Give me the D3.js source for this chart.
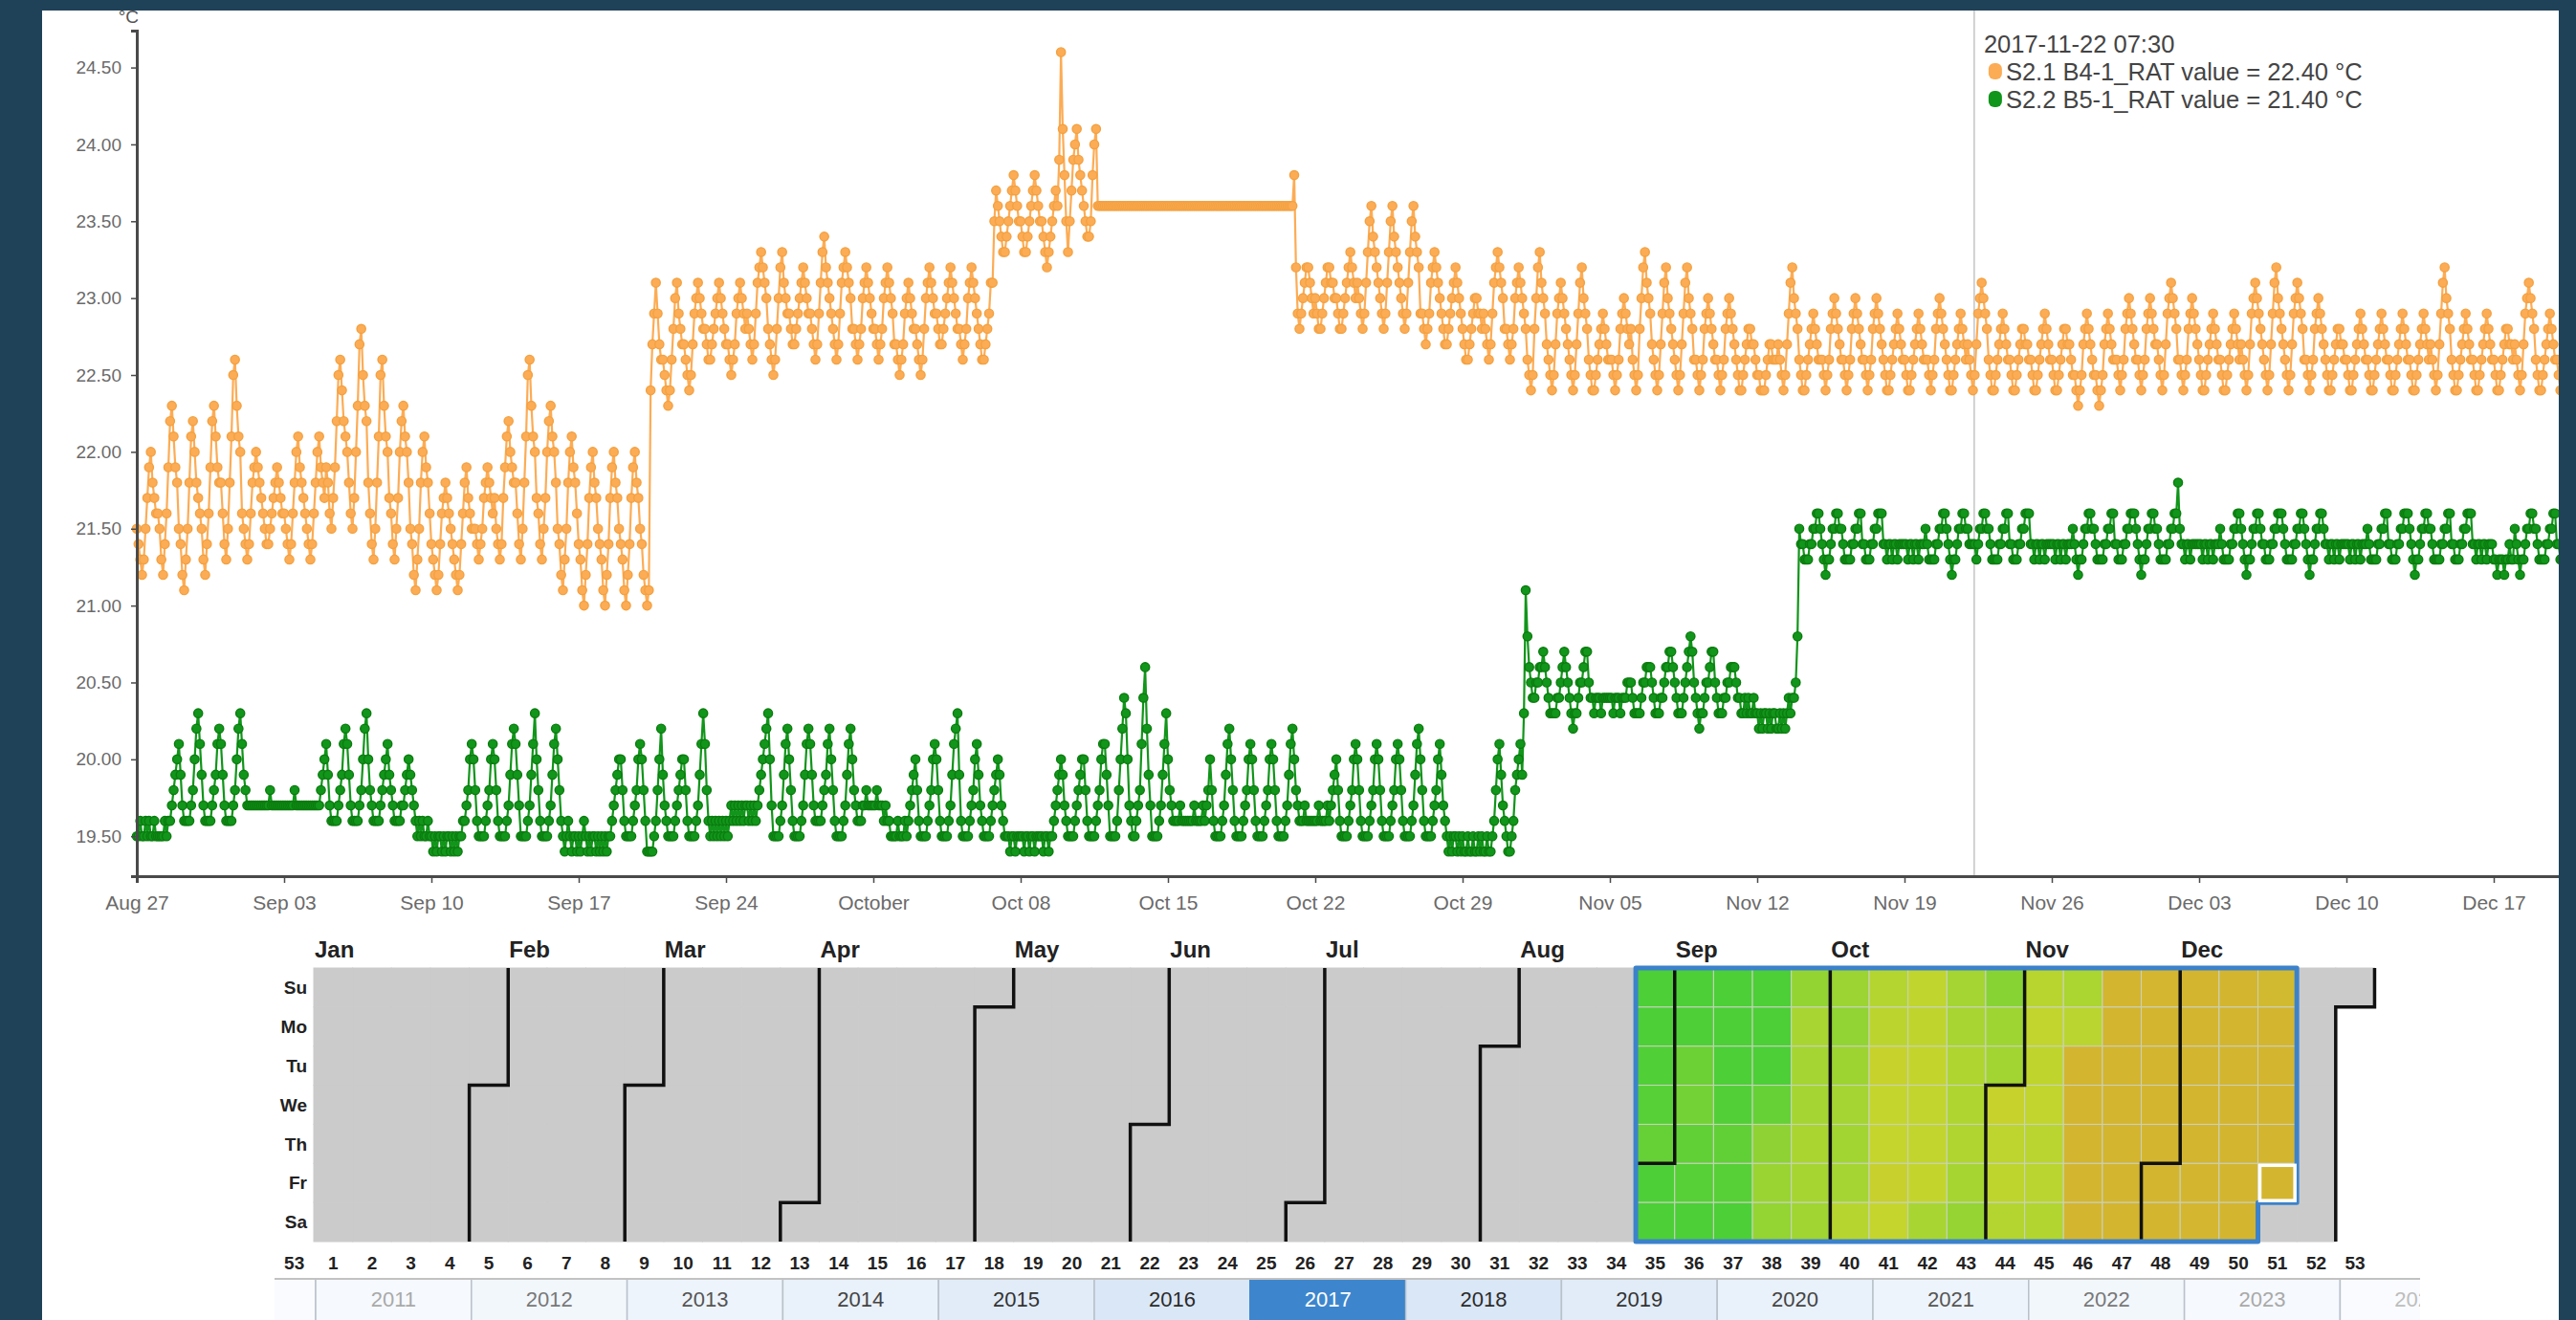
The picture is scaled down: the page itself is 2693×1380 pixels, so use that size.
<!DOCTYPE html>
<html>
<head>
<meta charset="utf-8">
<script src="https://cdn.jsdelivr.net/npm/d3@7"></script>
<style>
  html, body { margin: 0; padding: 0; background: #1f4259; overflow: hidden; }
  svg { display: block; font-family: "Liberation Sans", Arial, sans-serif; }
</style>
</head>
<body>
<svg id="chart" width="2693" height="1380"></svg>
<script>
// ---------- data ----------
// Return-air temperature readings, one every 2 hours from 2017-08-27 00:00 (12 per day)
const seriesStart = new Date(2017, 7, 27, 0, 0);
const readingStepHours = 2;
const sensorNames = ["S2.1 B4-1_RAT", "S2.2 B5-1_RAT"];
const unitLabel = "°C";

const b4Readings = [
  21.5,21.4,21.3,21.2,21.3,21.5,21.7,21.9,22.0,21.8,21.7,21.6, 21.6,21.5,21.3,21.2,21.4,21.6,21.9,22.2,22.3,22.1,21.9,21.8,
  21.5,21.4,21.2,21.1,21.3,21.5,21.8,22.1,22.2,22.0,21.8,21.7, 21.6,21.5,21.3,21.2,21.4,21.6,21.9,22.2,22.3,22.1,21.9,21.8,
  21.8,21.6,21.4,21.3,21.5,21.8,22.1,22.5,22.6,22.3,22.1,22.0, 21.6,21.5,21.4,21.3,21.4,21.6,21.8,21.9,22.0,21.9,21.8,21.7,
  21.6,21.5,21.4,21.4,21.5,21.6,21.7,21.8,21.9,21.8,21.7,21.6, 21.6,21.5,21.4,21.3,21.4,21.6,21.8,22.0,22.1,21.9,21.8,21.7,
  21.6,21.5,21.4,21.3,21.4,21.6,21.8,22.0,22.1,21.9,21.8,21.7, 21.9,21.8,21.6,21.5,21.7,21.9,22.2,22.5,22.6,22.4,22.2,22.1,
  22.0,21.8,21.6,21.5,21.7,22.0,22.3,22.7,22.8,22.5,22.3,22.2, 21.8,21.6,21.4,21.3,21.5,21.8,22.1,22.5,22.6,22.3,22.1,22.0,
  21.7,21.6,21.4,21.3,21.5,21.7,22.0,22.2,22.3,22.1,22.0,21.8, 21.5,21.4,21.2,21.1,21.3,21.5,21.8,22.0,22.1,21.9,21.8,21.6,
  21.4,21.3,21.2,21.1,21.2,21.4,21.6,21.7,21.8,21.7,21.6,21.5, 21.4,21.3,21.2,21.1,21.2,21.4,21.6,21.8,21.9,21.7,21.6,21.5,
  21.5,21.5,21.4,21.3,21.4,21.5,21.7,21.8,21.9,21.8,21.7,21.6, 21.7,21.5,21.4,21.3,21.4,21.7,21.9,22.1,22.2,22.0,21.9,21.8,
  21.8,21.6,21.4,21.3,21.5,21.8,22.1,22.5,22.6,22.3,22.1,22.0, 21.7,21.6,21.4,21.3,21.5,21.7,22.0,22.2,22.3,22.1,22.0,21.8,
  21.5,21.4,21.2,21.1,21.3,21.5,21.8,22.0,22.1,21.9,21.8,21.6, 21.4,21.3,21.1,21.0,21.2,21.4,21.7,21.9,22.0,21.8,21.7,21.5,
  21.4,21.3,21.1,21.0,21.2,21.4,21.7,21.9,22.0,21.8,21.7,21.5, 21.4,21.3,21.1,21.0,21.2,21.4,21.7,21.9,22.0,21.8,21.7,21.5,
  21.4,21.2,21.1,21.0,21.1,22.4,22.7,22.9,23.1,22.9,22.7,22.6, 22.6,22.5,22.4,22.3,22.4,22.6,22.8,23.0,23.1,22.9,22.8,22.7,
  22.7,22.6,22.5,22.4,22.5,22.7,22.9,23.0,23.1,23.0,22.9,22.8, 22.8,22.7,22.6,22.6,22.7,22.8,22.9,23.0,23.1,23.0,22.9,22.8,
  22.7,22.7,22.6,22.5,22.6,22.7,22.9,23.0,23.1,23.0,22.9,22.8, 22.9,22.8,22.7,22.6,22.7,22.9,23.1,23.2,23.3,23.2,23.1,23.0,
  22.8,22.7,22.6,22.5,22.6,22.8,23.0,23.2,23.3,23.1,23.0,22.9, 22.9,22.8,22.7,22.7,22.8,22.9,23.0,23.1,23.2,23.1,23.0,22.9,
  22.9,22.8,22.7,22.6,22.7,22.9,23.1,23.3,23.4,23.2,23.1,23.0, 22.9,22.8,22.7,22.6,22.7,22.9,23.1,23.2,23.3,23.2,23.1,23.0,
  22.8,22.8,22.7,22.6,22.7,22.8,23.0,23.1,23.2,23.1,23.0,22.9, 22.8,22.8,22.7,22.6,22.7,22.8,23.0,23.1,23.2,23.1,23.0,22.9,
  22.7,22.7,22.6,22.5,22.6,22.7,22.9,23.0,23.1,23.0,22.9,22.8, 22.8,22.7,22.6,22.5,22.6,22.8,23.0,23.1,23.2,23.1,23.0,22.9,
  22.9,22.8,22.7,22.7,22.8,22.9,23.0,23.1,23.2,23.1,23.0,22.9, 22.8,22.8,22.7,22.6,22.7,22.8,23.0,23.1,23.2,23.1,23.0,22.9,
  22.8,22.7,22.6,22.6,22.7,22.8,22.9,23.1,23.1,23.5,23.7,23.6, 23.5,23.4,23.3,23.3,23.4,23.5,23.6,23.7,23.8,23.7,23.6,23.5,
  23.5,23.4,23.3,23.3,23.4,23.5,23.6,23.7,23.8,23.7,23.6,23.5, 23.5,23.4,23.3,23.2,23.3,23.4,23.5,23.6,23.7,23.6,23.9,24.6,
  24.1,23.8,23.5,23.3,23.5,23.7,23.9,24.0,24.1,23.9,23.8,23.7, 23.6,23.5,23.4,23.4,23.5,23.8,24.0,24.1,23.6,23.6,23.6,23.6,
  23.6,23.6,23.6,23.6,23.6,23.6,23.6,23.6,23.6,23.6,23.6,23.6, 23.6,23.6,23.6,23.6,23.6,23.6,23.6,23.6,23.6,23.6,23.6,23.6,
  23.6,23.6,23.6,23.6,23.6,23.6,23.6,23.6,23.6,23.6,23.6,23.6, 23.6,23.6,23.6,23.6,23.6,23.6,23.6,23.6,23.6,23.6,23.6,23.6,
  23.6,23.6,23.6,23.6,23.6,23.6,23.6,23.6,23.6,23.6,23.6,23.6, 23.6,23.6,23.6,23.6,23.6,23.6,23.6,23.6,23.6,23.6,23.6,23.6,
  23.6,23.6,23.6,23.6,23.6,23.6,23.6,23.6,23.6,23.6,23.6,23.6, 23.6,23.6,23.6,23.6,23.6,23.6,23.6,23.6,23.6,23.6,23.6,23.6,
  23.6,23.6,23.6,23.6,23.6,23.6,23.6,23.6,23.6,23.6,23.6,23.6,
  23.8,23.2,22.9,22.8,22.9,23.0,23.1,23.2,23.2,23.1,23.0,22.9, 23.0,22.9,22.8,22.8,22.9,23.0,23.1,23.2,23.2,23.1,23.1,23.0,
  23.0,22.9,22.8,22.8,22.9,23.0,23.1,23.2,23.3,23.2,23.1,23.0, 23.1,23.0,22.9,22.8,22.9,23.1,23.3,23.5,23.6,23.4,23.3,23.2,
  23.1,23.0,22.9,22.8,22.9,23.1,23.3,23.5,23.6,23.4,23.3,23.2, 23.1,23.0,22.9,22.8,22.9,23.1,23.3,23.5,23.6,23.4,23.3,23.2,
  22.9,22.9,22.8,22.7,22.8,22.9,23.1,23.2,23.3,23.2,23.1,23.0, 22.9,22.8,22.7,22.7,22.8,22.9,23.0,23.1,23.2,23.1,23.0,22.9,
  22.8,22.7,22.6,22.6,22.7,22.8,22.9,23.0,23.0,22.9,22.9,22.8, 22.9,22.8,22.7,22.6,22.7,22.9,23.1,23.2,23.3,23.2,23.1,23.0,
  22.8,22.8,22.7,22.6,22.7,22.8,23.0,23.1,23.2,23.1,23.0,22.9, 22.8,22.6,22.5,22.4,22.5,22.8,23.0,23.2,23.3,23.1,23.0,22.9,
  22.7,22.6,22.5,22.4,22.5,22.7,22.9,23.0,23.1,23.0,22.9,22.8, 22.7,22.6,22.5,22.4,22.5,22.7,22.9,23.1,23.2,23.0,22.9,22.8,
  22.6,22.5,22.4,22.4,22.5,22.6,22.7,22.8,22.9,22.8,22.7,22.6, 22.6,22.6,22.5,22.4,22.5,22.6,22.8,22.9,23.0,22.9,22.8,22.7,
  22.8,22.6,22.5,22.4,22.5,22.8,23.0,23.2,23.3,23.1,23.0,22.9, 22.7,22.6,22.5,22.4,22.5,22.7,22.9,23.1,23.2,23.0,22.9,22.8,
  22.7,22.6,22.5,22.4,22.5,22.7,22.9,23.1,23.2,23.0,22.9,22.8, 22.6,22.6,22.5,22.4,22.5,22.6,22.8,22.9,23.0,22.9,22.8,22.7,
  22.6,22.6,22.5,22.4,22.5,22.6,22.8,22.9,23.0,22.9,22.8,22.7, 22.6,22.5,22.4,22.4,22.5,22.6,22.7,22.8,22.8,22.7,22.7,22.6,
  22.5,22.5,22.4,22.4,22.4,22.5,22.6,22.7,22.7,22.6,22.6,22.6, 22.7,22.6,22.5,22.4,22.5,22.7,22.9,23.1,23.2,23.0,22.9,22.8,
  22.6,22.5,22.4,22.4,22.5,22.6,22.7,22.8,22.9,22.8,22.7,22.6, 22.6,22.6,22.5,22.4,22.5,22.6,22.8,22.9,23.0,22.9,22.8,22.7,
  22.6,22.6,22.5,22.4,22.5,22.6,22.8,22.9,23.0,22.9,22.8,22.7, 22.6,22.6,22.5,22.4,22.5,22.6,22.8,22.9,23.0,22.9,22.8,22.7,
  22.6,22.5,22.4,22.4,22.5,22.6,22.7,22.8,22.9,22.8,22.7,22.6, 22.6,22.5,22.4,22.4,22.5,22.6,22.7,22.8,22.9,22.8,22.7,22.6,
  22.6,22.6,22.5,22.4,22.5,22.6,22.8,22.9,23.0,22.9,22.8,22.7, 22.6,22.5,22.4,22.4,22.5,22.6,22.7,22.8,22.9,22.8,22.7,22.6,
  22.7,22.6,22.5,22.4,22.5,22.7,22.9,23.0,23.1,23.0,22.9,22.8, 22.6,22.5,22.4,22.4,22.5,22.6,22.7,22.8,22.9,22.8,22.7,22.6,
  22.6,22.5,22.4,22.4,22.5,22.6,22.7,22.8,22.8,22.7,22.7,22.6, 22.6,22.5,22.4,22.4,22.5,22.6,22.7,22.8,22.9,22.8,22.7,22.6,
  22.6,22.5,22.4,22.4,22.5,22.6,22.7,22.8,22.8,22.7,22.7,22.6, 22.5,22.5,22.4,22.3,22.4,22.5,22.7,22.8,22.9,22.8,22.7,22.6,
  22.5,22.5,22.4,22.3,22.4,22.5,22.7,22.8,22.9,22.8,22.7,22.6, 22.6,22.6,22.5,22.4,22.5,22.6,22.8,22.9,23.0,22.9,22.8,22.7,
  22.6,22.6,22.5,22.4,22.5,22.6,22.8,22.9,23.0,22.9,22.8,22.7, 22.7,22.6,22.5,22.4,22.5,22.7,22.9,23.0,23.1,23.0,22.9,22.8,
  22.6,22.6,22.5,22.4,22.5,22.6,22.8,22.9,23.0,22.9,22.8,22.7, 22.6,22.5,22.4,22.4,22.5,22.6,22.7,22.8,22.9,22.8,22.7,22.6,
  22.6,22.5,22.4,22.4,22.5,22.6,22.7,22.8,22.9,22.8,22.7,22.6, 22.7,22.6,22.5,22.4,22.5,22.7,22.9,23.0,23.1,23.0,22.9,22.8,
  22.7,22.6,22.5,22.4,22.5,22.7,22.9,23.1,23.2,23.0,22.9,22.8, 22.7,22.6,22.5,22.4,22.5,22.7,22.9,23.0,23.1,23.0,22.9,22.8,
  22.6,22.6,22.5,22.4,22.5,22.6,22.8,22.9,23.0,22.9,22.8,22.7, 22.6,22.5,22.4,22.4,22.5,22.6,22.7,22.8,22.8,22.7,22.7,22.6,
  22.6,22.5,22.4,22.4,22.5,22.6,22.7,22.8,22.9,22.8,22.7,22.6, 22.6,22.5,22.4,22.4,22.5,22.6,22.7,22.8,22.9,22.8,22.7,22.6,
  22.6,22.5,22.4,22.4,22.5,22.6,22.7,22.8,22.9,22.8,22.7,22.6, 22.6,22.5,22.4,22.4,22.5,22.6,22.7,22.8,22.9,22.8,22.7,22.6,
  22.7,22.6,22.5,22.4,22.5,22.7,22.9,23.1,23.2,23.0,22.9,22.8, 22.6,22.5,22.4,22.4,22.5,22.6,22.7,22.8,22.9,22.8,22.7,22.6,
  22.6,22.5,22.4,22.4,22.5,22.6,22.7,22.8,22.9,22.8,22.7,22.6, 22.6,22.5,22.4,22.4,22.5,22.6,22.7,22.8,22.8,22.7,22.7,22.6,
  22.7,22.6,22.5,22.4,22.5,22.7,22.9,23.0,23.1,23.0,22.9,22.8, 22.6,22.5,22.4,22.4,22.5,22.6,22.7,22.8,22.9,22.8,22.7,22.6,
  22.6,22.5,22.4,22.4,22.5,22.6,22.7,22.8,22.8,22.7,22.7,22.6, 22.6,22.5,22.4,22.4,22.5,22.6,22.7,22.8,22.9,22.8,22.7,22.6,
  22.6,22.5,22.4,22.4,22.5,22.6,22.7,22.8,22.8,22.7,22.7,22.6
];

const b5Readings = [
  19.5,19.5,19.6,19.5,19.5,19.6,19.5,19.6,19.5,19.5,19.6,19.5, 19.5,19.5,19.5,19.5,19.6,19.5,19.6,19.6,19.7,19.8,19.9,20.0,
  20.1,19.9,19.7,19.6,19.6,19.6,19.6,19.7,19.8,20.0,20.2,20.3, 20.1,19.9,19.7,19.6,19.6,19.6,19.6,19.7,19.8,19.9,20.1,20.2,
  20.1,19.9,19.7,19.6,19.6,19.6,19.6,19.7,19.8,20.0,20.2,20.3, 20.1,19.9,19.8,19.7,19.7,19.7,19.7,19.7,19.7,19.7,19.7,19.7,
  19.7,19.7,19.7,19.7,19.8,19.7,19.7,19.7,19.7,19.7,19.7,19.7, 19.7,19.7,19.7,19.7,19.7,19.7,19.8,19.7,19.7,19.7,19.7,19.7,
  19.7,19.7,19.7,19.7,19.7,19.7,19.7,19.7,19.7,19.8,19.9,20.0, 20.1,19.9,19.7,19.6,19.6,19.6,19.6,19.7,19.8,19.9,20.1,20.2,
  20.1,19.9,19.7,19.6,19.6,19.6,19.6,19.7,19.8,20.0,20.2,20.3, 20.0,19.8,19.7,19.6,19.6,19.6,19.6,19.7,19.8,19.9,20.0,20.1,
  19.9,19.8,19.7,19.6,19.6,19.6,19.6,19.7,19.7,19.8,19.9,20.0, 19.9,19.8,19.7,19.6,19.5,19.6,19.5,19.6,19.5,19.5,19.6,19.5,
  19.5,19.4,19.5,19.4,19.5,19.5,19.4,19.5,19.4,19.5,19.5,19.4, 19.5,19.4,19.5,19.4,19.5,19.5,19.6,19.6,19.7,19.8,20.0,20.1,
  20.0,19.8,19.6,19.5,19.5,19.5,19.5,19.6,19.7,19.8,20.0,20.1, 20.0,19.8,19.6,19.5,19.5,19.5,19.5,19.6,19.7,19.9,20.1,20.2,
  20.1,19.9,19.7,19.5,19.5,19.5,19.5,19.6,19.7,19.9,20.1,20.3, 20.0,19.8,19.6,19.5,19.5,19.5,19.5,19.6,19.7,19.9,20.1,20.2,
  20.0,19.8,19.6,19.5,19.4,19.5,19.6,19.5,19.4,19.5,19.5,19.4, 19.5,19.4,19.5,19.6,19.5,19.4,19.5,19.4,19.5,19.5,19.4,19.5,
  19.4,19.5,19.4,19.5,19.4,19.5,19.5,19.6,19.7,19.8,19.9,20.0, 20.0,19.8,19.6,19.5,19.5,19.5,19.5,19.6,19.7,19.8,20.0,20.1,
  20.0,19.8,19.6,19.4,19.4,19.4,19.4,19.5,19.6,19.8,20.0,20.2, 19.9,19.7,19.6,19.5,19.5,19.5,19.5,19.6,19.7,19.8,19.9,20.0,
  20.0,19.8,19.6,19.5,19.5,19.5,19.5,19.6,19.7,19.9,20.1,20.3, 20.1,19.8,19.6,19.5,19.6,19.5,19.6,19.5,19.6,19.5,19.6,19.5,
  19.6,19.5,19.6,19.7,19.6,19.7,19.6,19.7,19.6,19.7,19.6,19.7, 19.7,19.6,19.7,19.6,19.7,19.6,19.7,19.8,19.9,20.0,20.1,20.2,
  20.3,20.0,19.7,19.5,19.5,19.5,19.5,19.6,19.7,19.9,20.1,20.2, 20.0,19.8,19.6,19.5,19.5,19.5,19.5,19.6,19.7,19.9,20.1,20.2,
  20.1,19.9,19.7,19.6,19.6,19.6,19.6,19.7,19.8,19.9,20.1,20.2, 20.0,19.8,19.6,19.5,19.5,19.5,19.5,19.6,19.7,19.9,20.1,20.2,
  20.0,19.8,19.7,19.6,19.6,19.6,19.7,19.7,19.8,19.7,19.7,19.7, 19.7,19.7,19.8,19.7,19.7,19.7,19.6,19.7,19.6,19.6,19.5,19.5,
  19.5,19.5,19.6,19.5,19.5,19.5,19.6,19.5,19.6,19.7,19.8,19.9, 20.0,19.8,19.6,19.5,19.5,19.5,19.5,19.6,19.7,19.8,20.0,20.1,
  20.0,19.8,19.6,19.5,19.5,19.5,19.5,19.6,19.7,19.9,20.1,20.2, 20.3,19.9,19.6,19.5,19.5,19.5,19.5,19.6,19.7,19.8,20.0,20.1,
  19.9,19.7,19.6,19.5,19.5,19.5,19.5,19.6,19.7,19.8,19.9,20.0, 19.9,19.7,19.6,19.5,19.5,19.5,19.4,19.5,19.5,19.4,19.5,19.5,
  19.5,19.5,19.4,19.5,19.5,19.4,19.5,19.5,19.4,19.5,19.5,19.5, 19.5,19.4,19.5,19.5,19.4,19.5,19.5,19.6,19.7,19.8,19.9,20.0,
  19.9,19.7,19.6,19.5,19.5,19.5,19.5,19.6,19.7,19.8,19.9,20.0, 20.0,19.8,19.6,19.5,19.5,19.5,19.5,19.6,19.7,19.8,20.0,20.1,
  20.1,19.9,19.7,19.5,19.5,19.5,19.5,19.6,19.8,20.0,20.2,20.4, 20.3,20.0,19.7,19.6,19.5,19.5,19.6,19.7,19.8,20.1,20.4,20.6,
  20.2,19.9,19.7,19.5,19.5,19.5,19.5,19.6,19.7,19.9,20.1,20.3, 20.0,19.8,19.7,19.6,19.6,19.6,19.6,19.7,19.6,19.6,19.6,19.6,
  19.6,19.6,19.6,19.7,19.6,19.6,19.6,19.6,19.7,19.6,19.7,19.8, 20.0,19.8,19.6,19.5,19.5,19.5,19.5,19.6,19.7,19.9,20.1,20.2,
  20.0,19.8,19.6,19.5,19.5,19.5,19.5,19.6,19.7,19.8,20.0,20.1, 20.0,19.8,19.6,19.5,19.5,19.5,19.5,19.6,19.7,19.8,20.0,20.1,
  20.0,19.8,19.6,19.5,19.5,19.5,19.5,19.6,19.7,19.9,20.1,20.2, 20.0,19.8,19.7,19.6,19.6,19.6,19.7,19.6,19.6,19.6,19.6,19.6,
  19.6,19.6,19.7,19.6,19.6,19.6,19.6,19.7,19.6,19.7,19.8,19.9, 20.0,19.8,19.6,19.5,19.5,19.5,19.5,19.6,19.7,19.8,20.0,20.1,
  20.0,19.8,19.6,19.5,19.5,19.5,19.5,19.6,19.7,19.8,20.0,20.1, 20.0,19.8,19.6,19.5,19.5,19.5,19.5,19.6,19.7,19.8,20.0,20.1,
  20.0,19.8,19.6,19.5,19.5,19.5,19.5,19.6,19.7,19.9,20.1,20.2, 20.0,19.8,19.6,19.5,19.5,19.5,19.5,19.6,19.7,19.8,20.0,20.1,
  19.9,19.7,19.6,19.5,19.4,19.5,19.4,19.5,19.5,19.4,19.5,19.4, 19.5,19.4,19.4,19.5,19.4,19.4,19.5,19.4,19.4,19.5,19.4,19.5,
  19.4,19.4,19.5,19.4,19.4,19.5,19.6,19.8,20.0,20.1,19.9,19.7, 19.6,19.5,19.4,19.4,19.5,19.6,19.8,19.9,20.0,20.1,19.9,20.3,
  21.1,20.8,20.6,20.5,20.4,20.4,20.5,20.5,20.6,20.6,20.7,20.6, 20.5,20.4,20.3,20.3,20.3,20.3,20.4,20.4,20.5,20.6,20.7,20.6,
  20.5,20.4,20.3,20.2,20.3,20.3,20.4,20.5,20.5,20.6,20.7,20.7, 20.5,20.4,20.4,20.3,20.4,20.4,20.4,20.3,20.4,20.4,20.4,20.4,
  20.4,20.4,20.3,20.4,20.4,20.4,20.3,20.4,20.4,20.4,20.5,20.5, 20.5,20.4,20.3,20.3,20.3,20.3,20.4,20.5,20.5,20.6,20.6,20.6,
  20.5,20.4,20.3,20.3,20.3,20.4,20.4,20.5,20.6,20.6,20.7,20.7, 20.6,20.5,20.4,20.3,20.3,20.3,20.4,20.5,20.6,20.7,20.8,20.7,
  20.5,20.4,20.3,20.2,20.3,20.3,20.4,20.5,20.5,20.6,20.7,20.7, 20.5,20.4,20.3,20.3,20.3,20.4,20.4,20.5,20.5,20.6,20.6,20.6,
  20.5,20.4,20.4,20.3,20.3,20.4,20.3,20.4,20.3,20.3,20.4,20.3, 20.3,20.2,20.3,20.2,20.3,20.3,20.2,20.3,20.2,20.3,20.3,20.2,
  20.2,20.3,20.2,20.3,20.2,20.3,20.4,20.3,20.4,20.4,20.5,20.8, 21.5,21.4,21.4,21.3,21.3,21.3,21.4,21.4,21.5,21.5,21.6,21.6,
  21.5,21.4,21.3,21.2,21.3,21.3,21.4,21.5,21.5,21.6,21.6,21.5, 21.5,21.4,21.3,21.3,21.3,21.3,21.4,21.4,21.5,21.5,21.6,21.6,
  21.4,21.4,21.3,21.3,21.3,21.4,21.4,21.5,21.5,21.6,21.6,21.6, 21.4,21.4,21.3,21.4,21.4,21.3,21.4,21.4,21.3,21.4,21.4,21.4,
  21.4,21.4,21.3,21.4,21.4,21.3,21.4,21.4,21.3,21.4,21.4,21.4, 21.5,21.4,21.3,21.3,21.3,21.3,21.4,21.4,21.5,21.5,21.6,21.6,
  21.5,21.4,21.3,21.2,21.3,21.3,21.4,21.5,21.5,21.6,21.6,21.5, 21.5,21.4,21.4,21.4,21.4,21.3,21.4,21.5,21.5,21.6,21.6,21.5,
  21.5,21.4,21.3,21.3,21.3,21.3,21.4,21.4,21.5,21.5,21.6,21.6, 21.4,21.4,21.3,21.3,21.3,21.4,21.4,21.5,21.5,21.6,21.6,21.6,
  21.4,21.4,21.3,21.4,21.4,21.3,21.4,21.4,21.3,21.4,21.4,21.4, 21.4,21.4,21.3,21.4,21.4,21.3,21.4,21.4,21.3,21.4,21.4,21.4,
  21.5,21.4,21.3,21.2,21.3,21.3,21.4,21.5,21.5,21.6,21.6,21.5, 21.5,21.4,21.3,21.3,21.3,21.3,21.4,21.4,21.5,21.5,21.6,21.6,
  21.4,21.4,21.3,21.3,21.3,21.4,21.4,21.5,21.5,21.6,21.6,21.6, 21.5,21.4,21.3,21.2,21.3,21.3,21.4,21.5,21.5,21.6,21.6,21.5,
  21.5,21.4,21.3,21.3,21.3,21.3,21.4,21.4,21.5,21.5,21.6,21.6, 21.8,21.5,21.4,21.4,21.3,21.4,21.4,21.3,21.4,21.4,21.4,21.4,
  21.4,21.4,21.3,21.4,21.4,21.3,21.4,21.4,21.3,21.4,21.4,21.4, 21.5,21.4,21.3,21.3,21.3,21.3,21.4,21.4,21.5,21.5,21.6,21.6,
  21.5,21.4,21.3,21.2,21.3,21.3,21.4,21.5,21.5,21.6,21.6,21.5, 21.4,21.4,21.3,21.3,21.3,21.4,21.4,21.5,21.5,21.6,21.6,21.6,
  21.5,21.4,21.3,21.3,21.3,21.3,21.4,21.4,21.5,21.5,21.6,21.6, 21.5,21.4,21.3,21.2,21.3,21.3,21.4,21.5,21.5,21.6,21.6,21.5,
  21.4,21.4,21.3,21.4,21.4,21.3,21.4,21.4,21.3,21.4,21.4,21.4, 21.4,21.4,21.3,21.4,21.4,21.3,21.4,21.4,21.3,21.4,21.4,21.4,
  21.5,21.4,21.3,21.3,21.3,21.3,21.4,21.4,21.5,21.5,21.6,21.6, 21.4,21.4,21.3,21.3,21.3,21.4,21.4,21.5,21.5,21.6,21.6,21.6,
  21.5,21.4,21.3,21.2,21.3,21.3,21.4,21.5,21.5,21.6,21.6,21.5, 21.5,21.4,21.3,21.3,21.3,21.3,21.4,21.4,21.5,21.5,21.6,21.6,
  21.4,21.4,21.3,21.3,21.3,21.4,21.4,21.5,21.5,21.6,21.6,21.6, 21.4,21.4,21.3,21.4,21.4,21.3,21.4,21.4,21.3,21.4,21.4,21.4,
  21.3,21.3,21.2,21.3,21.3,21.3,21.2,21.3,21.3,21.4,21.3,21.3, 21.5,21.4,21.3,21.2,21.3,21.3,21.4,21.5,21.5,21.6,21.6,21.5,
  21.5,21.4,21.3,21.3,21.3,21.3,21.4,21.4,21.5,21.5,21.6,21.6, 21.4,21.4,21.3,21.3,21.3,21.4,21.4,21.5,21.5,21.6,21.6,21.6,
  21.5,21.4,21.3,21.2,21.3,21.3,21.4,21.5,21.5,21.6,21.6,21.5, 21.5,21.4,21.3,21.3,21.3,21.3,21.4,21.4,21.5,21.5,21.6,21.6
];

const seriesColors = ["#fcac55", "#11951a"];
const seriesOutline = ["#f3a141", "#0b7c0f"];

const yTicks = [19.5, 20.0, 20.5, 21.0, 21.5, 22.0, 22.5, 23.0, 23.5, 24.0, 24.5];
const hoverTime = new Date(2017, 10, 22, 7, 30);

// calendar strip
const calendarYear = 2017;
const monthNames = ["Jan","Feb","Mar","Apr","May","Jun","Jul","Aug","Sep","Oct","Nov","Dec"];
const weekdayLabels = ["Su","Mo","Tu","We","Th","Fr","Sa"];
const weekLabels = [53,1,2,3,4,5,6,7,8,9,10,11,12,13,14,15,16,17,18,19,20,21,22,23,24,25,26,
  27,28,29,30,31,32,33,34,35,36,37,38,39,40,41,42,43,44,45,46,47,48,49,50,51,52,53];
const todayDate = new Date(2017, 11, 22);
const yearList = [2010,2011,2012,2013,2014,2015,2016,2017,2018,2019,2020,2021,2022,2023,2024];

// ---------- layout ----------
const W = 2693, H = 1380;
const panel = { x: 44, y: 11, w: 2631, h: 1369 };
const plot = { left: 143, top: 32, bottom: 916 };
const pxPerDay = 22;
const cal = { x: 328, y: 1012, cw: 40.65, ch: 40.86 };
const strip = { left: 287, right: 2530, top: 1337, first: 330, boxW: 162.8 };

const svg = d3.select("#chart");
svg.append("rect").attr("width", W).attr("height", H).attr("fill", "#1f4259");
const defs = svg.append("defs");
defs.append("clipPath").attr("id", "panelClip").append("rect")
  .attr("x", panel.x).attr("y", panel.y).attr("width", panel.w).attr("height", panel.h);
defs.append("clipPath").attr("id", "stripClip").append("rect")
  .attr("x", strip.left).attr("y", strip.top - 2).attr("width", strip.right - strip.left).attr("height", 60);

const root = svg.append("g").attr("clip-path", "url(#panelClip)");
root.append("rect").attr("x", panel.x).attr("y", panel.y).attr("width", panel.w).attr("height", panel.h).attr("fill", "#ffffff");

// ---------- series ----------
const perDay = 24 / readingStepHours;
const toPoints = arr => arr.map((v, i) => ({ t: d3.timeHour.offset(seriesStart, i * readingStepHours), v }));
const series = [toPoints(b4Readings), toPoints(b5Readings)];
const dayCount = Math.ceil(b4Readings.length / perDay);

const x = d3.scaleTime()
  .domain([seriesStart, d3.timeDay.offset(seriesStart, dayCount)])
  .range([plot.left, plot.left + dayCount * pxPerDay]);
const y = d3.scaleLinear().domain([19.24, 24.74]).range([plot.bottom, plot.top]);

// hover rule
root.append("line")
  .attr("x1", x(hoverTime)).attr("x2", x(hoverTime))
  .attr("y1", panel.y).attr("y2", plot.bottom)
  .attr("stroke", "#c4c4c4").attr("stroke-width", 1.5);

const line = d3.line().x(d => x(d.t)).y(d => y(d.v));
series.forEach((pts, s) => {
  const g = root.append("g");
  g.append("path").datum(pts).attr("d", line)
    .attr("fill", "none").attr("stroke", seriesColors[s]).attr("stroke-width", 2.2);
  g.selectAll("circle").data(pts).join("circle")
    .attr("cx", d => x(d.t)).attr("cy", d => y(d.v)).attr("r", 4.6)
    .attr("fill", seriesColors[s]).attr("stroke", seriesOutline[s]).attr("stroke-width", 1.4);
});

// axes
const yAxis = d3.axisLeft(y).tickValues(yTicks).tickFormat(d3.format(".2f")).tickSize(6).tickPadding(10);
const gy = root.append("g").attr("transform", `translate(${plot.left},0)`).call(yAxis);
const xAxis = d3.axisBottom(x).ticks(d3.timeWeek.every(1)).tickSize(7).tickPadding(13);
const gx = root.append("g").attr("transform", `translate(0,${plot.bottom})`).call(xAxis);
[gy, gx].forEach(g => {
  g.select(".domain").attr("stroke", "#4a4a4a").attr("stroke-width", 3);
  g.selectAll(".tick line").attr("stroke", "#4a4a4a").attr("stroke-width", 1.5);
  g.selectAll(".tick text").attr("fill", "#6a6a6a").attr("font-family", "'Liberation Sans', Arial, sans-serif");
});
gy.selectAll(".tick text").attr("font-size", 19);
gx.selectAll(".tick text").attr("font-size", 21);
root.append("text").attr("x", plot.left + 2).attr("y", 24).attr("text-anchor", "end")
  .attr("font-size", 19).attr("fill", "#555").text(unitLabel);

// hover legend
const hoverValue = pts => pts[d3.bisector(d => d.t).right(pts, hoverTime) - 1].v;
const legend = root.append("g").attr("transform", `translate(${x(hoverTime) + 10},0)`);
legend.append("text").attr("x", 0).attr("y", 55).attr("font-size", 25.5).attr("fill", "#444")
  .text(d3.timeFormat("%Y-%m-%d %H:%M")(hoverTime));
series.forEach((pts, s) => {
  const yy = 84 + s * 29;
  legend.append("rect").attr("x", 5).attr("y", yy - 18).attr("width", 14).attr("height", 17).attr("rx", 6)
    .attr("fill", seriesColors[s]);
  legend.append("text").attr("x", 23).attr("y", yy).attr("font-size", 25.5).attr("fill", "#444")
    .text(`${sensorNames[s]} value = ${hoverValue(pts).toFixed(2)} ${unitLabel}`);
});

// ---------- calendar ----------
const yearStart = new Date(calendarYear, 0, 1);
const yearEnd = new Date(calendarYear + 1, 0, 1);
const colOf = d => d3.timeWeek.count(yearStart, d);
const CX = w => cal.x + w * cal.cw;
const CY = r => cal.y + r * cal.ch;

// daily mean of both sensors drives the cell colour
const dailyMean = new Map();
for (let d = 0; d < dayCount; d++) {
  const vals = b4Readings.slice(d * perDay, (d + 1) * perDay).concat(b5Readings.slice(d * perDay, (d + 1) * perDay));
  dailyMean.set(+d3.timeDay.offset(seriesStart, d), d3.mean(vals));
}
const heat = d3.scaleLinear()
  .domain([20.7, 21.35, 21.7, 22.0])
  .range(["#4ccf37", "#a6d532", "#c6d52d", "#d4b530"])
  .clamp(true);

const calG = root.append("g");
calG.selectAll("rect.day").data(d3.timeDays(yearStart, yearEnd)).join("rect")
  .attr("class", "day")
  .attr("x", d => CX(colOf(d))).attr("y", d => CY(d.getDay()))
  .attr("width", cal.cw).attr("height", cal.ch)
  .attr("fill", d => dailyMean.has(+d) ? heat(dailyMean.get(+d)) : "#cbcbcb")
  .attr("stroke", d => dailyMean.has(+d) ? "#c9d2bf" : "#cbcbcb").attr("stroke-width", 1);

// month separators
const monthStarts = d3.timeMonths(new Date(calendarYear, 1, 1), new Date(calendarYear + 1, 0, 2));
calG.selectAll("path.sep").data(monthStarts).join("path")
  .attr("d", t => {
    const w = colOf(t), d = t.getDay();
    if (d === 0) return `M${CX(w)},${CY(0)}V${CY(7)}`;
    return `M${CX(w + 1)},${CY(0)}V${CY(d)}H${CX(w)}V${CY(7)}`;
  })
  .attr("fill", "none").attr("stroke", "#111").attr("stroke-width", 3.5);

// selected range outline
const selStart = seriesStart, selEnd = d3.timeDay.offset(seriesStart, dayCount - 1);
{
  const w0 = colOf(selStart), d0 = selStart.getDay(), w1 = colOf(selEnd), d1 = selEnd.getDay();
  calG.append("path")
    .attr("d", `M${CX(w0 + 1)},${CY(d0)}H${CX(w0)}V${CY(7)}H${CX(w1)}V${CY(d1 + 1)}H${CX(w1 + 1)}V${CY(0)}H${CX(w0 + 1)}Z`)
    .attr("fill", "none").attr("stroke", "#3c82cb").attr("stroke-width", 5).attr("stroke-linejoin", "round");
}
// today marker
calG.append("rect")
  .attr("x", CX(colOf(todayDate)) + 2).attr("y", CY(todayDate.getDay()) + 2)
  .attr("width", cal.cw - 4).attr("height", cal.ch - 4)
  .attr("fill", "none").attr("stroke", "#ffffff").attr("stroke-width", 3.5);

// labels
calG.selectAll("text.month").data(d3.range(12)).join("text")
  .attr("x", m => { const t = new Date(calendarYear, m, 1); return CX(colOf(t) + (t.getDay() > 0 ? 1 : 0)) + 1; })
  .attr("y", 1001).attr("font-size", 24).attr("font-weight", "bold").attr("fill", "#222")
  .text(m => monthNames[m]);
calG.selectAll("text.wd").data(weekdayLabels).join("text")
  .attr("x", 321).attr("y", (d, i) => CY(i + 0.5)).attr("dy", "0.35em")
  .attr("text-anchor", "end").attr("font-size", 19).attr("font-weight", "bold").attr("fill", "#222")
  .text(d => d);
calG.selectAll("text.wk").data(weekLabels).join("text")
  .attr("x", (d, i) => CX(i - 0.5)).attr("y", 1320).attr("dy", "0.35em")
  .attr("text-anchor", "middle").attr("font-size", 19).attr("font-weight", "bold").attr("fill", "#222")
  .text(d => d);

// ---------- year selector ----------
const yearG = root.append("g").attr("clip-path", "url(#stripClip)");
const selectedYear = calendarYear;
const fadeFill = ["#3d86cd", "#dae7f6", "#e1ecf8", "#e9f1fa", "#eef4fb", "#f2f7fc", "#f6f9fd", "#f9fbfe", "#fbfcfe"];
const fadeText = ["#ffffff", "#2b2b2b", "#333333", "#444444", "#555555", "#787878", "#a9a9a9", "#bdbdbd", "#c8c8c8"];
yearList.forEach(yr => {
  const dist = Math.min(8, Math.abs(yr - selectedYear));
  const bx = strip.first + (yr - 2011) * strip.boxW;
  yearG.append("rect").attr("x", bx).attr("y", strip.top).attr("width", strip.boxW).attr("height", 46)
    .attr("fill", fadeFill[dist]).attr("stroke", dist === 0 ? "#3d86cd" : "#b9c1ca").attr("stroke-width", 1.5);
  yearG.append("text").attr("x", bx + strip.boxW / 2).attr("y", 1358).attr("dy", "0.35em")
    .attr("text-anchor", "middle").attr("font-size", 22).attr("fill", fadeText[dist]).text(yr);
});
yearG.append("line").attr("x1", strip.left).attr("x2", strip.right).attr("y1", strip.top).attr("y2", strip.top)
  .attr("stroke", "#c2c2c2").attr("stroke-width", 2);
</script>
</body>
</html>
